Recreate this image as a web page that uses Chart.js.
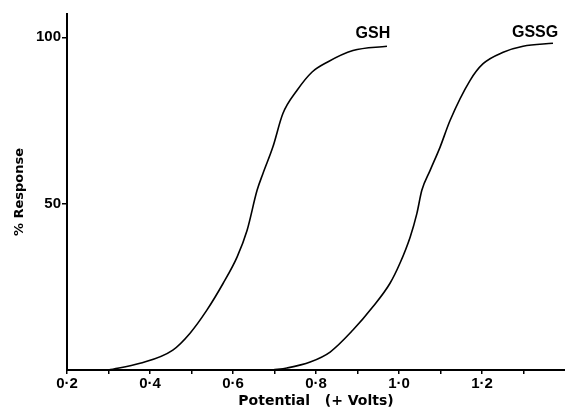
<!DOCTYPE html>
<html>
<head>
<meta charset="utf-8">
<script src="https://cdn.jsdelivr.net/npm/chart.js@4"></script>
<style>
html,body{margin:0;padding:0;background:#fff;}
#wrap{width:565px;height:412px;position:relative;}
</style>
</head>
<body>
<div id="wrap"><canvas id="c" width="565" height="412"></canvas></div>
<script>
// Data
const gshX = [0.30, 0.376, 0.455, 0.496, 0.537, 0.576, 0.610, 0.634, 0.658, 0.672, 0.696, 0.720, 0.754, 0.790, 0.827, 0.889, 0.971];
const gshY = [0, 2, 6, 11, 18, 26, 34, 42, 54, 59, 67, 77, 84, 89.5, 92.5, 96, 97.3];
const gssgX = [0.696, 0.730, 0.786, 0.834, 0.889, 0.937, 0.978, 1.002, 1.027, 1.043, 1.055, 1.075, 1.099, 1.123, 1.171, 1.202, 1.251, 1.299, 1.371];
const gssgY = [0, 0.6, 2.4, 5.4, 12, 19, 26, 32, 40, 47, 54, 60, 67, 75, 87, 92, 95.5, 97.3, 98.2];
const seriesNames = ['GSH', 'GSSG'];
const seriesLabelX = [0.937, 1.328];
const seriesLabelY = [101, 101.3];
const xTicks = [0.2, 0.3, 0.4, 0.5, 0.6, 0.7, 0.8, 0.9, 1.0, 1.1, 1.2, 1.3];
const xTickLabels = ['0·2', '', '0·4', '', '0·6', '', '0·8', '', '1·0', '', '1·2', ''];
const yTicks = [50, 100];
const yTickLabels = ['50', '100'];

const toPts = (xs, ys) => xs.map((x, i) => ({x: x, y: ys[i]}));
const FONT = '"DejaVu Sans", Verdana, sans-serif';
const LFONT = '"Liberation Sans", Arial, sans-serif';

const curveLabels = {
  id: 'curveLabels',
  afterDatasetsDraw(chart) {
    const {ctx, scales} = chart;
    ctx.save();
    ctx.fillStyle = '#000';
    ctx.font = 'bold 16px ' + LFONT;
    ctx.textAlign = 'center';
    ctx.textBaseline = 'middle';
    seriesNames.forEach((n, i) => {
      ctx.fillText(n, scales.x.getPixelForValue(seriesLabelX[i]), scales.y.getPixelForValue(seriesLabelY[i]));
    });
    ctx.restore();
  }
};

new Chart(document.getElementById('c'), {
  type: 'line',
  data: {
    datasets: [
      {label: seriesNames[0], data: toPts(gshX, gshY), borderColor: '#000', borderWidth: 1.6, pointRadius: 0, cubicInterpolationMode: 'monotone', fill: false},
      {label: seriesNames[1], data: toPts(gssgX, gssgY), borderColor: '#000', borderWidth: 1.6, pointRadius: 0, cubicInterpolationMode: 'monotone', fill: false}
    ]
  },
  options: {
    responsive: false,
    animation: false,
    devicePixelRatio: 1,
    layout: {padding: {top: 14, right: 0, left: 0, bottom: 0}},
    plugins: {legend: {display: false}, tooltip: {enabled: false}},
    scales: {
      x: {
        type: 'linear',
        min: 0.2,
        max: 1.4,
        afterBuildTicks: s => { s.ticks = xTicks.map(v => ({value: v})); },
        afterFit: s => { s.height = 42; },
        grid: {drawOnChartArea: false, drawTicks: true, tickLength: 4, color: '#000', lineWidth: 1.5},
        border: {display: true, color: '#000', width: 2},
        ticks: {
          autoSkip: false, maxRotation: 0, padding: 1, color: '#000',
          font: {family: LFONT, size: 15, weight: 'bold'},
          callback: (v, i) => xTickLabels[i]
        },
        title: {
          display: true, text: 'Potential   (+ Volts)', color: '#000',
          font: {family: FONT, size: 14, weight: 'bold'},
          padding: {top: 0, bottom: 2}
        }
      },
      y: {
        type: 'linear',
        min: 0,
        max: 107,
        afterBuildTicks: s => { s.ticks = yTicks.map(v => ({value: v})); },
        afterFit: s => { s.width = 67; },
        grid: {drawOnChartArea: false, drawTicks: true, tickLength: 5, color: '#000', lineWidth: 1.5},
        border: {display: true, color: '#000', width: 2},
        ticks: {
          padding: 1, color: '#000',
          font: {family: LFONT, size: 15, weight: 'bold'},
          callback: (v, i) => yTickLabels[i]
        },
        title: {
          display: true, text: '% Response', color: '#000',
          font: {family: FONT, size: 13, weight: 'bold'},
          padding: {top: 12, bottom: 0}
        }
      }
    }
  },
  plugins: [curveLabels]
});
</script>
</body>
</html>
